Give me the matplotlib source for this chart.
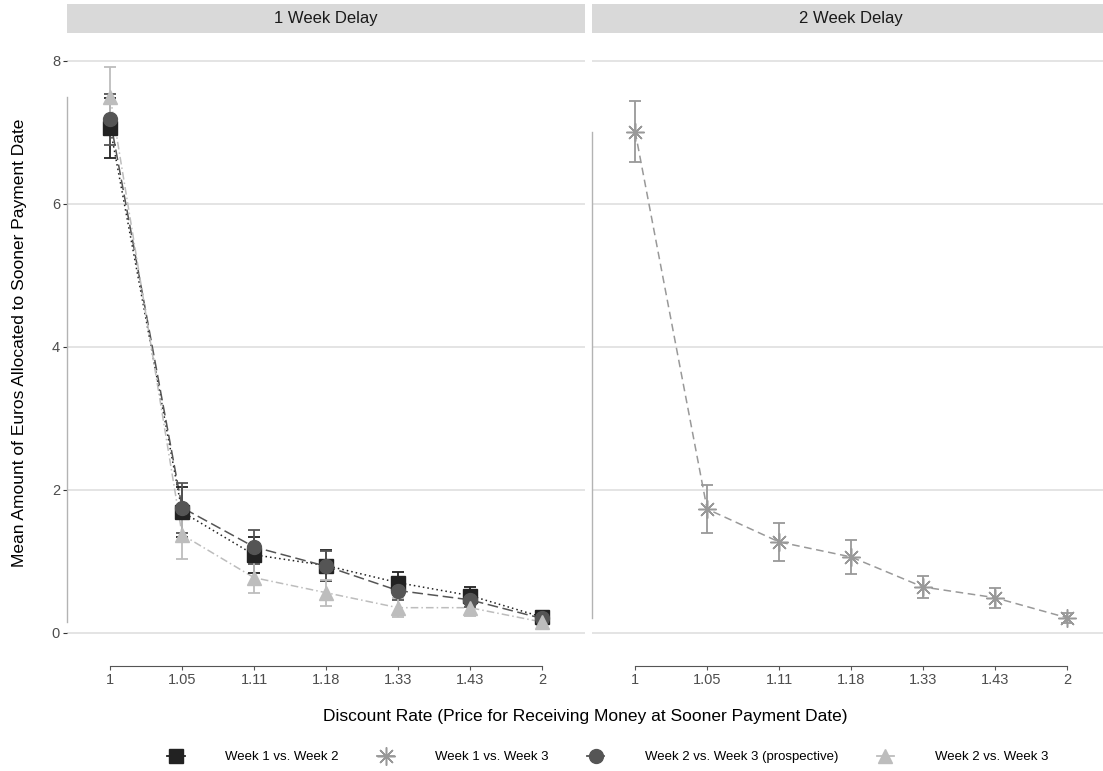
import numpy as np
import matplotlib
matplotlib.use('Agg')
import matplotlib.pyplot as plt
from matplotlib.lines import Line2D

plt.rcParams['font.family'] = ['Liberation Sans', 'DejaVu Sans']

rates = ['1', '1.05', '1.11', '1.18', '1.33', '1.43', '2']

# 1 week delay panel
w12_mean = [7.06, 1.69, 1.09, 0.94, 0.70, 0.52, 0.22]
w12_err = [0.42, 0.35, 0.25, 0.22, 0.15, 0.12, 0.05]
w23p_mean = [7.18, 1.75, 1.20, 0.93, 0.59, 0.46, 0.20]
w23p_err = [0.36, 0.35, 0.24, 0.21, 0.13, 0.10, 0.05]
w23_mean = [7.50, 1.37, 0.77, 0.56, 0.35, 0.35, 0.15]
w23_err = [0.42, 0.34, 0.22, 0.18, 0.13, 0.12, 0.04]

# 2 week delay panel
w13_mean = [7.01, 1.73, 1.27, 1.06, 0.64, 0.49, 0.21]
w13_err = [0.43, 0.34, 0.27, 0.24, 0.16, 0.14, 0.07]

c_w12 = '#222222'
c_w23p = '#555555'
c_w13 = '#999999'
c_w23 = '#bdbdbd'

fig = plt.figure(figsize=(11.03, 7.71), dpi=100)
W, H = 1103, 771
bottom_px, top_px = 652, 33
ax1 = fig.add_axes([67 / W, 1 - bottom_px / H, 518 / W, (bottom_px - top_px) / H])
ax2 = fig.add_axes([592 / W, 1 - bottom_px / H, 518 / W, (bottom_px - top_px) / H])

x = np.arange(len(rates))


def series(ax, m, e, color, marker, ls, ms, mew=1.0):
    ax.plot(x, m, linestyle=ls, color=color, linewidth=1.1, zorder=3)
    ax.errorbar(x, m, yerr=e, fmt='none', ecolor=color, elinewidth=1.3,
                capsize=4, capthick=1.3, zorder=4)
    ax.plot(x, m, linestyle='none', marker=marker, color=color, ms=ms,
            mew=mew, zorder=5)


series(ax1, w12_mean, w12_err, c_w12, 's', (0, (1, 2)), 9.5)
series(ax1, w23p_mean, w23p_err, c_w23p, 'o', (0, (7, 3)), 10)
series(ax1, w23_mean, w23_err, c_w23, '^', (0, (5, 2, 1, 2)), 10)
series(ax2, w13_mean, w13_err, c_w13, (8, 2, 0), (0, (5, 3)), 13, mew=1.1)

for ax, means in [(ax1, w12_mean + w23p_mean + w23_mean), (ax2, w13_mean)]:
    ax.set_xlim(-0.6, 6.6)
    ax.set_ylim(-0.27, 8.39)
    ax.set_yticks([0, 2, 4, 6, 8])
    ax.set_xticks(x)
    ax.set_xticklabels(rates)
    ax.grid(axis='y', color='#dcdcdc', linewidth=1.1)
    ax.set_axisbelow(True)
    for s in ['top', 'right']:
        ax.spines[s].set_visible(False)
    ax.spines['left'].set_bounds(min(means), max(means))
    ax.spines['left'].set_color('#b3b3b3')
    ax.spines['left'].set_linewidth(1.0)
    ax.spines['bottom'].set_bounds(0, 6)
    ax.spines['bottom'].set_position(('outward', 10))
    ax.spines['bottom'].set_color('#555555')
    ax.spines['bottom'].set_linewidth(0.8)
    ax.tick_params(axis='x', colors='#555555', labelcolor='#4d4d4d',
                   labelsize=10.5, length=3, width=0.8, pad=2)
    ax.tick_params(axis='y', colors='#333333', labelcolor='#4d4d4d',
                   labelsize=10.5, length=3, width=0.8, pad=2)

ax2.tick_params(axis='y', left=False, labelleft=False)

# facet strips
for ax, title in [(ax1, '1 Week Delay'), (ax2, '2 Week Delay')]:
    ax.text(0.5, 1.0 + 15 / (bottom_px - top_px), title, transform=ax.transAxes,
            ha='center', va='center', fontsize=12, color='#1a1a1a')
    ax.add_patch(plt.Rectangle((0, 1.0), 1, 29 / (bottom_px - top_px),
                               transform=ax.transAxes, facecolor='#d9d9d9',
                               edgecolor='none', clip_on=False, zorder=0))

ax1.set_ylabel('Mean Amount of Euros Allocated to Sooner Payment Date',
               fontsize=12.5, labelpad=18)
fig.text(585 / W, 1 - 716 / H,
         'Discount Rate (Price for Receiving Money at Sooner Payment Date)',
         ha='center', va='center', fontsize=12.5)

handles = [
    Line2D([], [], color=c_w12, marker='s', ms=9.5, lw=1.3),
    Line2D([], [], color=c_w13, marker=(8, 2, 0), ms=13, lw=1.3, mew=1.1),
    Line2D([], [], color=c_w23p, marker='o', ms=10, lw=1.3),
    Line2D([], [], color=c_w23, marker='^', ms=10, lw=1.3),
]
labels = ['Week 1 vs. Week 2', 'Week 1 vs. Week 3',
          'Week 2 vs. Week 3 (prospective)', 'Week 2 vs. Week 3']
fig.legend(handles, labels, ncol=4, loc='center', bbox_to_anchor=(0.551, 1 - 757 / H),
           frameon=False, fontsize=9.5, handlelength=1.3, handletextpad=3.1,
           columnspacing=2.9)

fig.savefig('out.png', dpi=100)
